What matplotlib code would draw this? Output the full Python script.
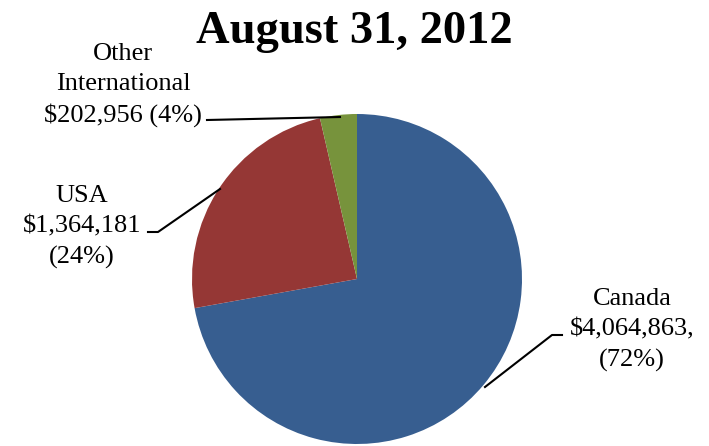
import matplotlib
matplotlib.use("Agg")
import matplotlib.pyplot as plt

# Revenue by region
regions = ["Canada", "USA", "Other International"]
amounts = [4064863, 1364181, 202956]
percents = [72, 24, 4]
colors = ["#375E90", "#953735", "#77933C"]

W, H = 709, 446
fig = plt.figure(figsize=(W / 100, H / 100), dpi=100)
plt.rcParams["font.family"] = ["Liberation Serif", "DejaVu Serif"]

# Pie axes: centre (357, 279) px, radius 165 px
cx, cy, r = 357, 279, 165
ax = fig.add_axes([(cx - r) / W, (H - cy - r) / H, 2 * r / W, 2 * r / H])
ax.pie(amounts, colors=colors, startangle=90, counterclock=False,
       radius=1.0, wedgeprops=dict(linewidth=0))
ax.set_xlim(-1, 1)
ax.set_ylim(-1, 1)
ax.set_aspect("equal")
ax.axis("off")

# Overlay in pixel coordinates for labels and leader lines
ov = fig.add_axes([0, 0, 1, 1])
ov.set_xlim(0, W)
ov.set_ylim(H, 0)
ov.axis("off")

ov.text(354, 43, "August 31, 2012", ha="center", va="baseline",
        fontsize=33.5, fontweight="bold")

fs = 19
ls = 1.46
ov.text(632, 330,
        f"{regions[0]}\n${amounts[0]:,},\n({percents[0]}%)",
        ha="center", va="center", fontsize=fs, linespacing=ls)
ov.text(82, 227,
        f"{regions[1]}\n${amounts[1]:,}\n({percents[1]}%)",
        ha="center", va="center", fontsize=fs, linespacing=ls)
ov.text(123, 85,
        "Other\nInternational\n"
        f"${amounts[2]:,} ({percents[2]}%)",
        ha="center", va="center", fontsize=fs, linespacing=ls)

lk = dict(color="black", linewidth=1.5)
ov.plot([485, 552, 562], [387, 335, 335], **lk)
ov.plot([148, 158, 220], [232, 232, 189], **lk)
ov.plot([207, 340], [120, 117], **lk)

fig.savefig("out.png", dpi=100)
